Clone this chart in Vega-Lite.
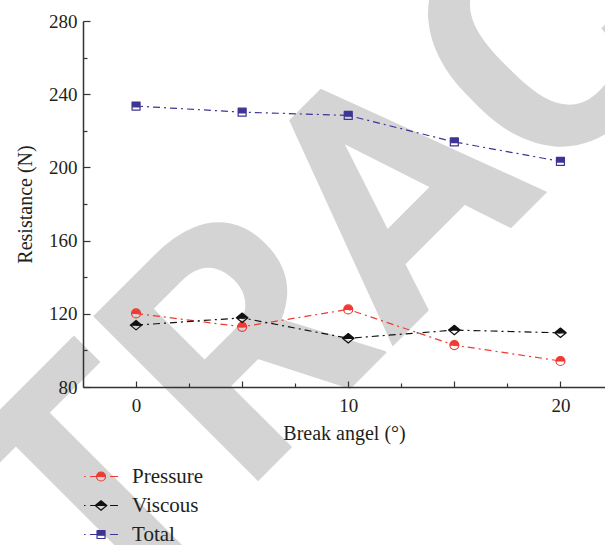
{
  "$schema": "https://vega.github.io/schema/vega-lite/v6.json",
  "width": 522,
  "height": 366,
  "autosize": {"type": "none"},
  "padding": {"left": 83, "top": 21, "right": 0, "bottom": 158},
  "config": {
    "view": {"stroke": null},
    "font": "Liberation Serif",
    "axis": {
      "grid": false,
      "zindex": 1,
      "domainColor": "#333333",
      "domainWidth": 1.5,
      "tickColor": "#333333",
      "tickWidth": 1.2,
      "labelFont": "Liberation Serif",
      "labelFontSize": 19,
      "labelColor": "#231f20",
      "titleFont": "Liberation Serif",
      "titleFontSize": 20,
      "titleFontWeight": "normal",
      "titleColor": "#231f20"
    }
  },
  "datasets": {
    "watermark": [{"label": "RETRACTED"}],
    "resistance": [
      {"series": "Pressure", "angle": 0, "value": 120.2},
      {"series": "Pressure", "angle": 5, "value": 112.9},
      {"series": "Pressure", "angle": 10, "value": 122.4},
      {"series": "Pressure", "angle": 15, "value": 102.9},
      {"series": "Pressure", "angle": 20, "value": 94.2},
      {"series": "Viscous", "angle": 0, "value": 113.8},
      {"series": "Viscous", "angle": 5, "value": 117.8},
      {"series": "Viscous", "angle": 10, "value": 106.6},
      {"series": "Viscous", "angle": 15, "value": 111.1},
      {"series": "Viscous", "angle": 20, "value": 109.6},
      {"series": "Total", "angle": 0, "value": 233.5},
      {"series": "Total", "angle": 5, "value": 230.2},
      {"series": "Total", "angle": 10, "value": 228.4},
      {"series": "Total", "angle": 15, "value": 213.9},
      {"series": "Total", "angle": 20, "value": 203.3}
    ],
    "legend": [
      {"series": "Pressure"},
      {"series": "Viscous"},
      {"series": "Total"}
    ]
  },
  "layer": [
    {
      "layer": [
        {
          "data": {"name": "watermark"},
          "mark": {"type": "text", "font": "Roboto", "fontWeight": "bold", "fontSize": 328, "angle": -45, "align": "center", "baseline": "alphabetic", "color": "#d4d4d4"},
          "encoding": {
            "x": {"datum": 15.68, "type": "quantitative", "axis": null},
            "y": {"datum": 143.7, "type": "quantitative", "axis": null},
            "text": {"field": "label"}
          }
        },
        {
          "data": {"name": "resistance"},
          "mark": {"type": "line", "strokeWidth": 1.2, "strokeDash": [7, 4, 2, 4]},
          "encoding": {
            "x": {
              "field": "angle", "type": "quantitative",
              "scale": {"domain": [-2.5, 22.1], "nice": false, "zero": false},
              "axis": {
                "orient": "bottom",
                "zindex": 1,
                "values": [0, 5, 10, 15, 20],
                "labelExpr": "datum.value % 10 === 0 ? datum.label : ''",
                "tickSize": -6,
                "labelPadding": 15,
                "title": "Break angel (°)",
                "titlePadding": 8
              }
            },
            "y": {
              "field": "value", "type": "quantitative",
              "scale": {"domain": [80, 280], "nice": false, "zero": false},
              "axis": {
                "orient": "left",
                "zindex": 1,
                "values": [80, 120, 160, 200, 240, 280],
                "tickSize": -7,
                "labelPadding": 13,
                "title": "Resistance (N)",
                "titlePadding": 13
              }
            },
            "color": {
              "field": "series", "type": "nominal",
              "scale": {"domain": ["Pressure", "Viscous", "Total"], "range": ["#ee3b33", "#111111", "#3d3594"]},
              "legend": null
            }
          }
        },
        {
          "data": {"name": "resistance"},
          "mark": {"type": "point", "filled": true, "size": 100, "strokeWidth": 1.2, "opacity": 1, "strokeJoin": "round"},
          "encoding": {
            "x": {
              "field": "angle", "type": "quantitative",
              "axis": {
                "orient": "bottom",
                "zindex": 1,
                "values": [2.5, 7.5, 12.5, 17.5],
                "labels": false,
                "domain": false,
                "tickSize": -4,
                "title": null
              }
            },
            "y": {
              "field": "value", "type": "quantitative",
              "axis": {
                "orient": "left",
                "zindex": 1,
                "values": [100, 140, 180, 220, 260],
                "labels": false,
                "domain": false,
                "tickSize": -4,
                "title": null
              }
            },
            "fill": {
              "field": "series", "type": "nominal",
              "scale": {"domain": ["Pressure", "Viscous", "Total"], "range": ["#ee3b33", "#111111", "#3d3594"]},
              "legend": null
            },
            "stroke": {
              "field": "series", "type": "nominal",
              "scale": {"domain": ["Pressure", "Viscous", "Total"], "range": ["#ee3b33", "#111111", "#3d3594"]},
              "legend": null
            },
            "shape": {
              "field": "series", "type": "nominal",
              "scale": {
                "domain": ["Pressure", "Viscous", "Total"],
                "range": [
                  "M -0.9 0 A 0.9 0.9 0 0 1 0.9 0 Z M -0.9 0 A 0.9 0.9 0 0 0 0.9 0 A 0.9 0.9 0 0 1 -0.9 0",
                  "M -1.15 0 L 0 -0.95 L 1.15 0 Z M -1.15 0 L 0 0.95 L 1.15 0 L 0 0.95 Z",
                  "M -0.8 -0.8 L 0.8 -0.8 L 0.8 0.15 L -0.8 0.15 Z M -0.8 0.15 L -0.8 0.8 L 0.8 0.8 L 0.8 0.15 L 0.8 0.8 L -0.8 0.8 Z"
                ]
              },
              "legend": null
            }
          }
        }
      ],
      "resolve": {"axis": {"x": "independent", "y": "independent"}}
    },
    {
      "data": {"name": "legend"},
      "layer": [
        {
          "mark": {"type": "rule", "strokeWidth": 1.2, "strokeDash": [1.5, 4.5, 8, 12, 8, 100]},
          "encoding": {
            "x": {"datum": -2.45, "type": "quantitative", "axis": null},
            "x2": {"datum": -0.85},
            "y": {
              "field": "series", "type": "nominal", "axis": null,
              "scale": {"type": "point", "domain": ["Pressure", "Viscous", "Total"], "range": [455.5, 513.5], "padding": 0}
            },
            "color": {"field": "series", "type": "nominal", "legend": null}
          }
        },
        {
          "mark": {"type": "point", "filled": true, "size": 100, "strokeWidth": 1.2, "opacity": 1, "strokeJoin": "round"},
          "encoding": {
            "x": {"datum": -1.65, "type": "quantitative", "axis": null},
            "y": {"field": "series", "type": "nominal", "axis": null},
            "fill": {"field": "series", "type": "nominal", "legend": null},
            "stroke": {"field": "series", "type": "nominal", "legend": null},
            "shape": {"field": "series", "type": "nominal", "legend": null}
          }
        },
        {
          "mark": {"type": "text", "align": "left", "baseline": "middle", "font": "Liberation Serif", "fontSize": 21, "color": "#231f20", "dy": 0},
          "encoding": {
            "x": {"datum": -0.19, "type": "quantitative", "axis": null},
            "y": {"field": "series", "type": "nominal", "axis": null},
            "text": {"field": "series"}
          }
        }
      ]
    }
  ],
  "resolve": {"scale": {"y": "independent"}, "axis": {"x": "independent", "y": "independent"}}
}
